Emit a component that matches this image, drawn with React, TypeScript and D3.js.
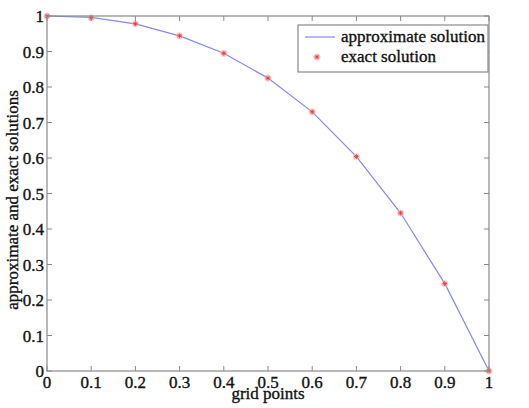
import React from "react";
import * as d3 from "d3";

const xValues = [0, 0.1, 0.2, 0.3, 0.4, 0.5, 0.6, 0.7, 0.8, 0.9, 1];
const approxValues = [1, 0.996, 0.978, 0.944, 0.895, 0.825, 0.73, 0.604, 0.445, 0.246, 0];
const exactValues = [1, 0.995, 0.978, 0.944, 0.895, 0.825, 0.73, 0.604, 0.445, 0.246, 0];
const xTicks = [0, 0.1, 0.2, 0.3, 0.4, 0.5, 0.6, 0.7, 0.8, 0.9, 1];
const yTicks = [0, 0.1, 0.2, 0.3, 0.4, 0.5, 0.6, 0.7, 0.8, 0.9, 1];
const legendLabels = ["approximate solution", "exact solution"];

const W = 529, H = 408;
const L = 47, R = 489, T = 16, B = 371;
const font = "'Liberation Serif', 'Times New Roman', serif";
const axisColor = "#8a8a8a";
const lineColor = "#8686f2";
const markColor = "#e83a3a";
const textColor = "#111";

function Star({ cx, cy }: { cx: number; cy: number }) {
  const r = 2.4;
  return (
    <g>
      <circle cx={cx} cy={cy} r={3.6} fill="#f8b4b4" opacity={0.6} />
      <line x1={cx - r} y1={cy} x2={cx + r} y2={cy} stroke={markColor} strokeWidth={0.9} />
      <line x1={cx} y1={cy - r} x2={cx} y2={cy + r} stroke={markColor} strokeWidth={0.9} />
      <line x1={cx - r * 0.7} y1={cy - r * 0.7} x2={cx + r * 0.7} y2={cy + r * 0.7} stroke={markColor} strokeWidth={0.9} />
      <line x1={cx - r * 0.7} y1={cy + r * 0.7} x2={cx + r * 0.7} y2={cy - r * 0.7} stroke={markColor} strokeWidth={0.9} />
    </g>
  );
}

export default function App() {
  const x = d3.scaleLinear().domain([0, 1]).range([L, R]);
  const y = d3.scaleLinear().domain([0, 1]).range([B, T]);
  const line = d3
    .line<number>()
    .x((_, i) => x(xValues[i]))
    .y((d) => y(d));
  const tl = 5;
  const textProps = { fill: textColor, stroke: textColor, strokeWidth: 0.35 };
  return (
    <svg
      width={W}
      height={H}
      style={{ position: "absolute", left: 0, top: 0, background: "#fff" }}
      fontFamily={font}
    >
      <path d={line(approxValues) || ""} fill="none" stroke={lineColor} strokeWidth={1.2} />
      {exactValues.map((v, i) => (
        <Star key={i} cx={x(xValues[i])} cy={y(v)} />
      ))}
      <rect x={L} y={T} width={R - L} height={B - T} fill="none" stroke={axisColor} strokeWidth={1.2} />
      {xTicks.map((t) => (
        <g key={"x" + t}>
          <line x1={x(t)} x2={x(t)} y1={B} y2={B - tl} stroke={axisColor} />
          <line x1={x(t)} x2={x(t)} y1={T} y2={T + tl} stroke={axisColor} />
          <text x={x(t)} y={B + 17} textAnchor="middle" fontSize={17} {...textProps}>
            {String(t)}
          </text>
        </g>
      ))}
      {yTicks.map((t) => (
        <g key={"y" + t}>
          <line x1={L} x2={L + tl} y1={y(t)} y2={y(t)} stroke={axisColor} />
          <line x1={R} x2={R - tl} y1={y(t)} y2={y(t)} stroke={axisColor} />
          <text x={L - 3} y={y(t) + 6} textAnchor="end" fontSize={17} {...textProps}>
            {String(t)}
          </text>
        </g>
      ))}
      <text x={(L + R) / 2} y={399} textAnchor="middle" fontSize={17} {...textProps}>
        grid points
      </text>
      <text
        transform={`translate(18, 200) rotate(-90)`}
        textAnchor="middle"
        fontSize={17}
        {...textProps}
      >
        approximate and exact solutions
      </text>
      <rect x={298} y={25} width={190} height={47} fill="#fff" stroke={axisColor} strokeWidth={1.2} />
      <line x1={305} x2={335} y1={37} y2={37} stroke={lineColor} strokeWidth={1.2} />
      <text x={341} y={42} fontSize={17} {...textProps}>{legendLabels[0]}</text>
      <Star cx={317} cy={57} />
      <text x={341} y={62} fontSize={17} {...textProps}>{legendLabels[1]}</text>
    </svg>
  );
}
